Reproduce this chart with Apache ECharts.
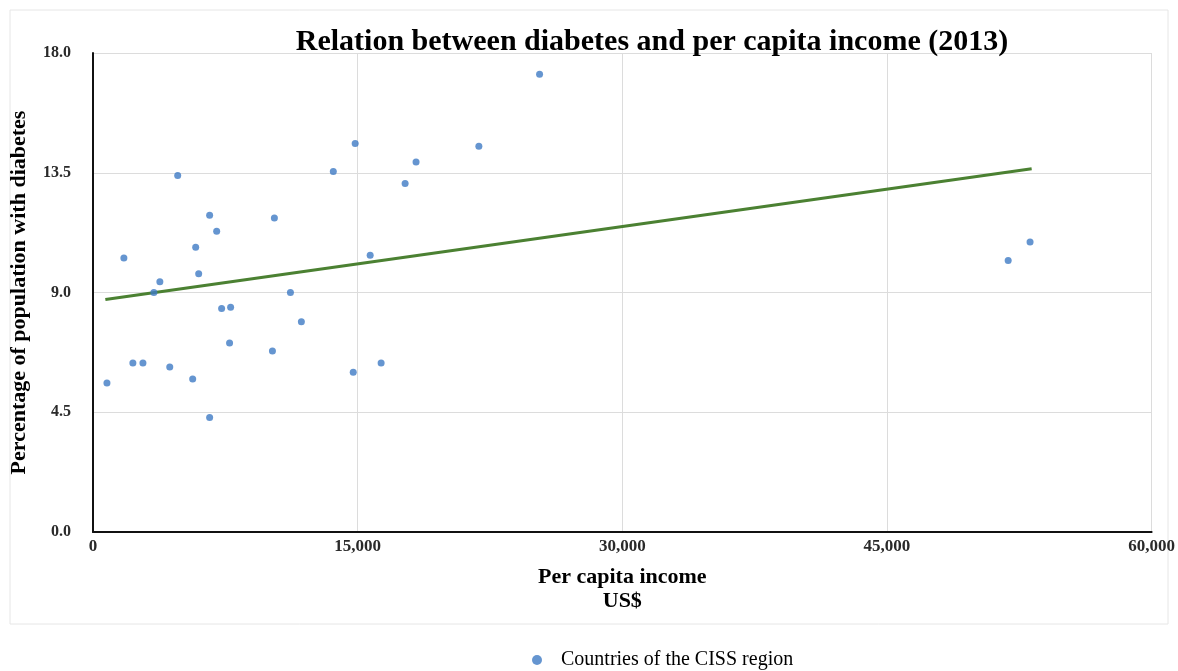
<!DOCTYPE html>
<html>
<head>
<meta charset="utf-8">
<script src="https://cdn.jsdelivr.net/npm/echarts@6/dist/echarts.min.js"></script>
<style>
	html, body { margin: 0; padding: 0; background: #fff; }
	#chart { width: 1178px; height: 671px; }
</style>
</head>
<body>
<div id="chart"></div>
<script>
// per capita income (US$) and % of population with diabetes, one pair per country
const income = [
	790, 1750, 2260, 2830, 3450, 3790, 4350, 4800, 5650, 5820, 5990,
	6610, 6610, 7010, 7290, 7800, 7740, 10170, 10280, 11190, 11810,
	13620, 14860, 14750, 15710, 16330, 17690, 18310, 21870, 25310,
	51870, 53110,
];
const diabetes = [
	5.6, 10.3, 6.35, 6.35, 9.0, 9.4, 6.2, 13.4, 5.75, 10.7, 9.7,
	11.9, 4.3, 11.3, 8.4, 8.45, 7.1, 6.8, 11.8, 9.0, 7.9,
	13.55, 14.6, 6.0, 10.4, 6.35, 13.1, 13.9, 14.5, 17.2,
	10.2, 10.9,
];
// linear trend line end points [income, %]
const trendX = [700, 53200];
const trendY = [8.74, 13.65];

const xTicks = { min: 0, max: 60000, interval: 15000 };
const yTicks = { min: 0, max: 18, interval: 4.5 };

const serif = "'Liberation Serif', 'DejaVu Serif', serif";

var chart = echarts.init(document.getElementById("chart"), null, { renderer: "canvas" });

var option = {
	animation: false,
	backgroundColor: "#fff",
	title: {
		text: "Relation between diabetes and per capita income (2013)",
		left: 647,
		top: 22,
		textAlign: "center",
		textStyle: { fontFamily: serif, fontSize: 30, fontWeight: "bold", color: "#000" },
	},
	graphic: [
		{
			type: "rect",
			shape: { x: 10, y: 10, width: 1158, height: 614 },
			style: { fill: "none", stroke: "#e6e6e6", lineWidth: 1 },
			silent: true,
		},
	],
	grid: { left: 92, right: 23, top: 53, bottom: 139 },
	legend: {
		top: 645,
		left: 527,
		itemWidth: 10,
		itemHeight: 10,
		icon: "circle",
		data: ["Countries of the CISS region"],
		textStyle: { fontFamily: serif, fontSize: 20, color: "#000", padding: [0, 0, 0, 14] },
	},
	xAxis: {
		type: "value",
		min: xTicks.min,
		max: xTicks.max,
		interval: xTicks.interval,
		name: "Per capita income\nUS$",
		nameLocation: "middle",
		nameGap: 33,
		nameTextStyle: { fontFamily: serif, fontSize: 22, fontWeight: "bold", color: "#000", lineHeight: 24 },
		axisLine: { show: true, onZero: false, lineStyle: { color: "#111", width: 2 } },
		axisTick: { show: false },
		splitLine: { show: true, lineStyle: { color: "#dcdcdc", width: 1 } },
		axisLabel: {
			fontFamily: serif,
			fontSize: 17,
			fontWeight: "bold",
			color: "#2a2a2a",
			margin: 6,
			formatter: (v) => v.toLocaleString("en-US"),
		},
	},
	yAxis: {
		type: "value",
		min: yTicks.min,
		max: yTicks.max,
		interval: yTicks.interval,
		name: "Percentage of population with diabetes",
		nameLocation: "middle",
		nameGap: 63,
		nameTextStyle: { fontFamily: serif, fontSize: 22, fontWeight: "bold", color: "#000" },
		axisLine: { show: true, onZero: false, lineStyle: { color: "#111", width: 2 } },
		axisTick: { show: false },
		splitLine: { show: true, lineStyle: { color: "#dcdcdc", width: 1 } },
		axisLabel: {
			fontFamily: serif,
			fontSize: 16,
			fontWeight: "bold",
			color: "#2a2a2a",
			margin: 22,
			formatter: (v) => v.toFixed(1),
		},
	},
	series: [
		{
			name: "Countries of the CISS region",
			type: "scatter",
			symbol: "circle",
			symbolSize: 7,
			itemStyle: { color: "#3f7bc4" },
			data: income.map((x, i) => [x, diabetes[i]]),
			z: 3,
		},
		{
			name: "trend",
			type: "line",
			showSymbol: false,
			lineStyle: { color: "#4b8132", width: 3 },
			data: trendX.map((x, i) => [x, trendY[i]]),
			z: 2,
		},
	],
};

option && chart.setOption(option);
</script>
</body>
</html>
